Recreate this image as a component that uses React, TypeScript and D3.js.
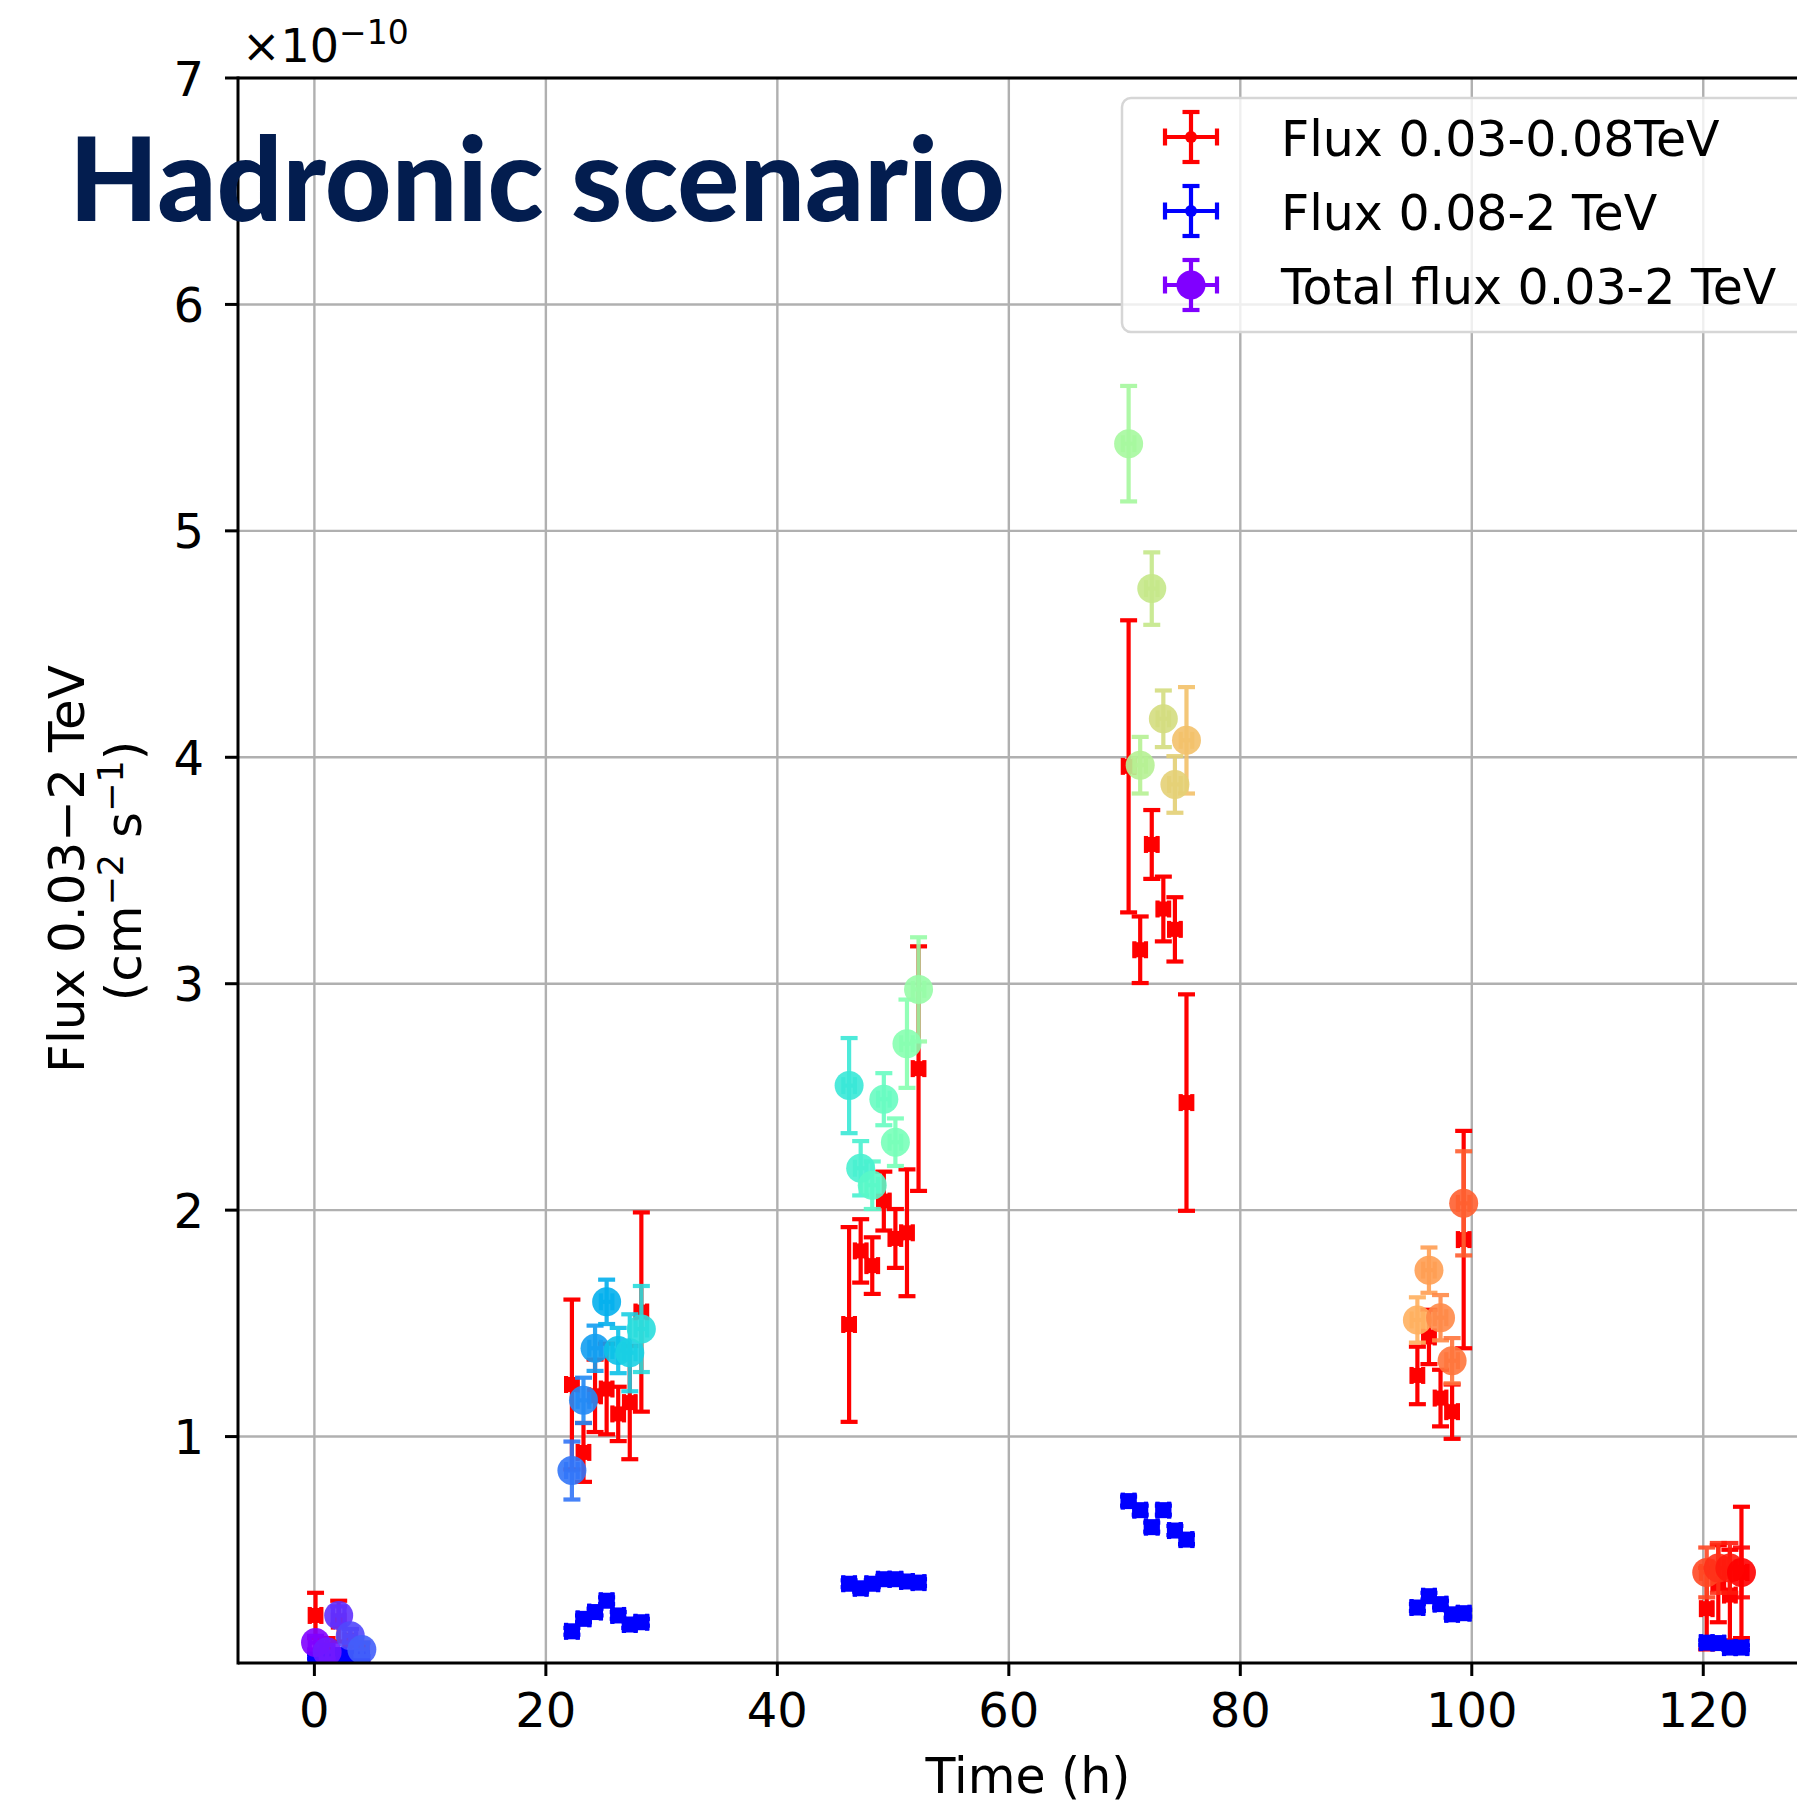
import React, {useEffect, useRef} from "react";
import * as d3 from "d3";

// observation times (h), one per point
const times = [
    0.1, 1.1, 2.1, 3.1, 4.1,
    22.25, 23.25, 24.25, 25.25, 26.25, 27.25, 28.25,
    46.2, 47.2, 48.2, 49.2, 50.2, 51.2, 52.2,
    70.35, 71.35, 72.35, 73.35, 74.35, 75.35,
    95.3, 96.3, 97.3, 98.3, 99.3,
    120.3, 121.3, 122.3, 123.3
];
const timeErr = 0.5;

// Flux 0.03-0.08 TeV (x 1e-10)
const lowFlux = [
    0.21, 0.06, 0.185, 0.10, 0.05,
    1.23, 0.93, 1.18, 1.21, 1.10, 1.15, 1.55,
    1.495, 1.82, 1.755, 2.04, 1.875, 1.90, 2.625,
    3.96, 3.15, 3.615, 3.33, 3.24, 2.475,
    1.27, 1.44, 1.17, 1.11, 1.87,
    0.24, 0.35, 0.30, 0.40
];
const lowErr = [
    0.10, 0.05, 0.09, 0.05, 0.04,
    0.375, 0.13, 0.16, 0.20, 0.12, 0.25, 0.44,
    0.43, 0.14, 0.125, 0.13, 0.13, 0.28, 0.54,
    0.645, 0.147, 0.152, 0.143, 0.142, 0.478,
    0.127, 0.12, 0.125, 0.12, 0.48,
    0.18, 0.17, 0.20, 0.29
];

// Flux 0.08-2 TeV
const highFlux = [
    0.03, 0.02, 0.035, 0.025, 0.02,
    0.14, 0.195, 0.225, 0.275, 0.21, 0.17, 0.18,
    0.35, 0.33, 0.35, 0.37, 0.37, 0.36, 0.355,
    0.715, 0.675, 0.60, 0.675, 0.585, 0.545,
    0.245, 0.295, 0.26, 0.215, 0.22,
    0.09, 0.088, 0.068, 0.068
];
const highErr = [
    0.01, 0.01, 0.01, 0.01, 0.01,
    0.015, 0.015, 0.015, 0.015, 0.015, 0.015, 0.015,
    0.015, 0.015, 0.015, 0.015, 0.015, 0.015, 0.015,
    0.02, 0.02, 0.02, 0.02, 0.02, 0.02,
    0.015, 0.015, 0.015, 0.015, 0.015,
    0.01, 0.01, 0.01, 0.01
];

// Total flux 0.03-2 TeV
const totalFlux = [
    0.09, 0.05, 0.21, 0.12, 0.06,
    0.85, 1.16, 1.39, 1.595, 1.38, 1.37, 1.475,
    2.55, 2.185, 2.11, 2.49, 2.30, 2.735, 2.975,
    5.385, 3.965, 4.745, 4.17, 3.88, 4.075,
    1.515, 1.735, 1.525, 1.335, 2.03,
    0.40, 0.42, 0.42, 0.40
];
const totalErr = [
    0.03, 0.03, 0.04, 0.03, 0.03,
    0.128, 0.10, 0.10, 0.098, 0.10, 0.17, 0.19,
    0.21, 0.12, 0.105, 0.115, 0.105, 0.195, 0.23,
    0.255, 0.125, 0.16, 0.125, 0.125, 0.235,
    0.10, 0.10, 0.10, 0.10, 0.23,
    0.11, 0.11, 0.11, 0.11
];

const xTicks = [0, 20, 40, 60, 80, 100, 120];
const yTicks = [1, 2, 3, 4, 5, 6, 7];
const legendLabels = ["Flux 0.03-0.08TeV", "Flux 0.08-2 TeV", "Total flux 0.03-2 TeV"];

// matplotlib "rainbow" colormap
const rainbow = (t) => {
    const c = (v) => Math.round(Math.max(0, Math.min(1, v)) * 255);
    return `rgb(${c(Math.abs(2 * t - 0.5))},${c(Math.sin(Math.PI * t))},${c(Math.cos(Math.PI * t / 2))})`;
};

const FONT = "DejaVu Sans, sans-serif";
const LW = 4.2;

const App = () => {
    const ref = useRef();

    useEffect(() => {
        const w = 1797;
        const h = 1805;
        const left = 238, right = 1819, top = 78, bottom = 1663;

        const svg = d3.select(ref.current)
            .attr("width", w)
            .attr("height", h);
        svg.selectAll("*").remove();

        const x = d3.scaleLinear().domain([-6.6, 130]).range([left, right]);
        const y = d3.scaleLinear().domain([0, 7]).range([bottom, top]);

        svg.append("rect").attr("width", w).attr("height", h).attr("fill", "white");

        svg.append("clipPath").attr("id", "plotclip")
            .append("rect")
            .attr("x", left).attr("y", top)
            .attr("width", right - left).attr("height", bottom - top);

        // grid
        const grid = svg.append("g").attr("stroke", "#b0b0b0").attr("stroke-width", 2.4);
        [...xTicks, 140].forEach(t => {
            grid.append("line").attr("x1", x(t)).attr("x2", x(t)).attr("y1", top).attr("y2", bottom);
        });
        yTicks.forEach(v => {
            grid.append("line").attr("x1", left).attr("x2", w).attr("y1", y(v)).attr("y2", y(v));
        });

        const plot = svg.append("g").attr("clip-path", "url(#plotclip)");

        const errorbars = (g, vals, errs, colorOf, opacity) => {
            const cap = 8.5;
            vals.forEach((v, i) => {
                const cx = x(times[i]), cy = y(v);
                const col = colorOf(i);
                const e = g.append("g").attr("stroke", col).attr("stroke-width", LW).attr("opacity", opacity);
                e.append("line").attr("x1", cx).attr("x2", cx).attr("y1", y(v - errs[i])).attr("y2", y(v + errs[i]));
                e.append("line").attr("x1", x(times[i] - timeErr)).attr("x2", x(times[i] + timeErr)).attr("y1", cy).attr("y2", cy);
                [v - errs[i], v + errs[i]].forEach(b => {
                    e.append("line").attr("x1", cx - cap).attr("x2", cx + cap).attr("y1", y(b)).attr("y2", y(b));
                });
                [times[i] - timeErr, times[i] + timeErr].forEach(b => {
                    e.append("line").attr("x1", x(b)).attr("x2", x(b)).attr("y1", cy - cap).attr("y2", cy + cap);
                });
            });
        };

        // red: 0.03-0.08 TeV
        errorbars(plot, lowFlux, lowErr, () => "#ff0000", 1);
        plot.selectAll(".low").data(lowFlux).enter().append("rect")
            .attr("x", (d, i) => x(times[i]) - 7.5)
            .attr("y", d => y(d) - 7.5)
            .attr("width", 15).attr("height", 15)
            .attr("fill", "#ff0000");

        // blue: 0.08-2 TeV
        errorbars(plot, highFlux, highErr, () => "#0000ff", 1);
        plot.selectAll(".high").data(highFlux).enter().append("rect")
            .attr("x", (d, i) => x(times[i]) - 8)
            .attr("y", d => y(d) - 8)
            .attr("width", 16).attr("height", 16)
            .attr("fill", "#0000ff");

        // total, colour by point order
        const n = totalFlux.length;
        const colorOf = (i) => rainbow(i / (n - 1));
        errorbars(plot, totalFlux, totalErr, colorOf, 0.9);
        plot.selectAll(".tot").data(totalFlux).enter().append("circle")
            .attr("cx", (d, i) => x(times[i]))
            .attr("cy", d => y(d))
            .attr("r", 14.5)
            .attr("fill", (d, i) => colorOf(i))
            .attr("opacity", 0.9);

        // spines
        const spines = svg.append("g").attr("stroke", "#000").attr("stroke-width", 3);
        spines.append("line").attr("x1", left).attr("x2", left).attr("y1", top - 1.5).attr("y2", bottom + 1.5);
        spines.append("line").attr("x1", left).attr("x2", w).attr("y1", bottom).attr("y2", bottom);
        spines.append("line").attr("x1", left).attr("x2", w).attr("y1", top).attr("y2", top);

        // ticks
        const ticks = svg.append("g").attr("stroke", "#000").attr("stroke-width", 3);
        xTicks.forEach(t => {
            ticks.append("line").attr("x1", x(t)).attr("x2", x(t)).attr("y1", bottom).attr("y2", bottom + 13);
            svg.append("text").attr("x", x(t)).attr("y", 1727)
                .attr("text-anchor", "middle").attr("font-family", FONT).attr("font-size", 48)
                .attr("fill", "#000").text(t);
        });
        yTicks.forEach(v => {
            ticks.append("line").attr("x1", left - 13).attr("x2", left).attr("y1", y(v)).attr("y2", y(v));
            svg.append("text").attr("x", 204).attr("y", y(v) + 17.5)
                .attr("text-anchor", "end").attr("font-family", FONT).attr("font-size", 48)
                .attr("fill", "#000").text(v);
        });

        // offset text
        const off = svg.append("text").attr("x", 242).attr("y", 62)
            .attr("font-family", FONT).attr("font-size", 46).attr("fill", "#000");
        off.append("tspan").text("\u00d710");
        off.append("tspan").attr("dy", -18).attr("font-size", 33).text("\u221210");

        // axis labels
        svg.append("text").attr("x", 1028).attr("y", 1793)
            .attr("text-anchor", "middle").attr("font-family", FONT).attr("font-size", 49)
            .attr("fill", "#000").text("Time (h)");

        svg.append("text").attr("transform", "translate(84,869) rotate(-90)")
            .attr("text-anchor", "middle").attr("font-family", FONT).attr("font-size", 50)
            .attr("fill", "#000").text("Flux 0.03\u22122 TeV");
        const yl2 = svg.append("text").attr("transform", "translate(141,871) rotate(-90)")
            .attr("text-anchor", "middle").attr("font-family", FONT).attr("font-size", 50)
            .attr("fill", "#000");
        yl2.append("tspan").text("(cm");
        yl2.append("tspan").attr("dy", -18).attr("font-size", 35).text("\u22122");
        yl2.append("tspan").attr("dy", 18).text(" s");
        yl2.append("tspan").attr("dy", -18).attr("font-size", 35).text("\u22121");
        yl2.append("tspan").attr("dy", 18).text(")");

        // legend
        const lg = svg.append("g");
        lg.append("rect").attr("x", 1122).attr("y", 98).attr("width", 720).attr("height", 234)
            .attr("rx", 9).attr("fill", "white").attr("fill-opacity", 0.8)
            .attr("stroke", "#d6d6d6").attr("stroke-width", 2.5);
        const legendColors = ["#ff0000", "#0000ff", rainbow(0)];
        const legendR = [6, 6, 14.5];
        legendLabels.forEach((lab, i) => {
            const cy = 137 + i * 74;
            const cx = 1191;
            const m = lg.append("g").attr("stroke", legendColors[i]).attr("stroke-width", LW);
            m.append("line").attr("x1", cx).attr("x2", cx).attr("y1", cy - 25).attr("y2", cy + 25);
            m.append("line").attr("x1", cx - 26).attr("x2", cx + 26).attr("y1", cy).attr("y2", cy);
            [-25, 25].forEach(d => m.append("line").attr("x1", cx - 8.5).attr("x2", cx + 8.5).attr("y1", cy + d).attr("y2", cy + d));
            [-26, 26].forEach(d => m.append("line").attr("x1", cx + d).attr("x2", cx + d).attr("y1", cy - 8.5).attr("y2", cy + 8.5));
            lg.append("circle").attr("cx", cx).attr("cy", cy).attr("r", legendR[i]).attr("fill", legendColors[i]);
            lg.append("text").attr("x", 1281).attr("y", cy + 19)
                .attr("font-family", FONT).attr("font-size", 49).attr("fill", "#000").text(lab);
        });

        // title overlay
        svg.append("text").attr("x", 69).attr("y", 221)
            .attr("font-family", "Lato, 'Noto Sans', sans-serif").attr("font-weight", 900)
            .attr("font-size", 116).attr("fill", "#031d4f")
            .attr("textLength", 936).attr("lengthAdjust", "spacingAndGlyphs")
            .text("Hadronic scenario");
    }, []);

    return (
        <div style={{position: "absolute", left: 0, top: 0}}>
            <svg ref={ref}></svg>
        </div>
    );
};

export default App;
